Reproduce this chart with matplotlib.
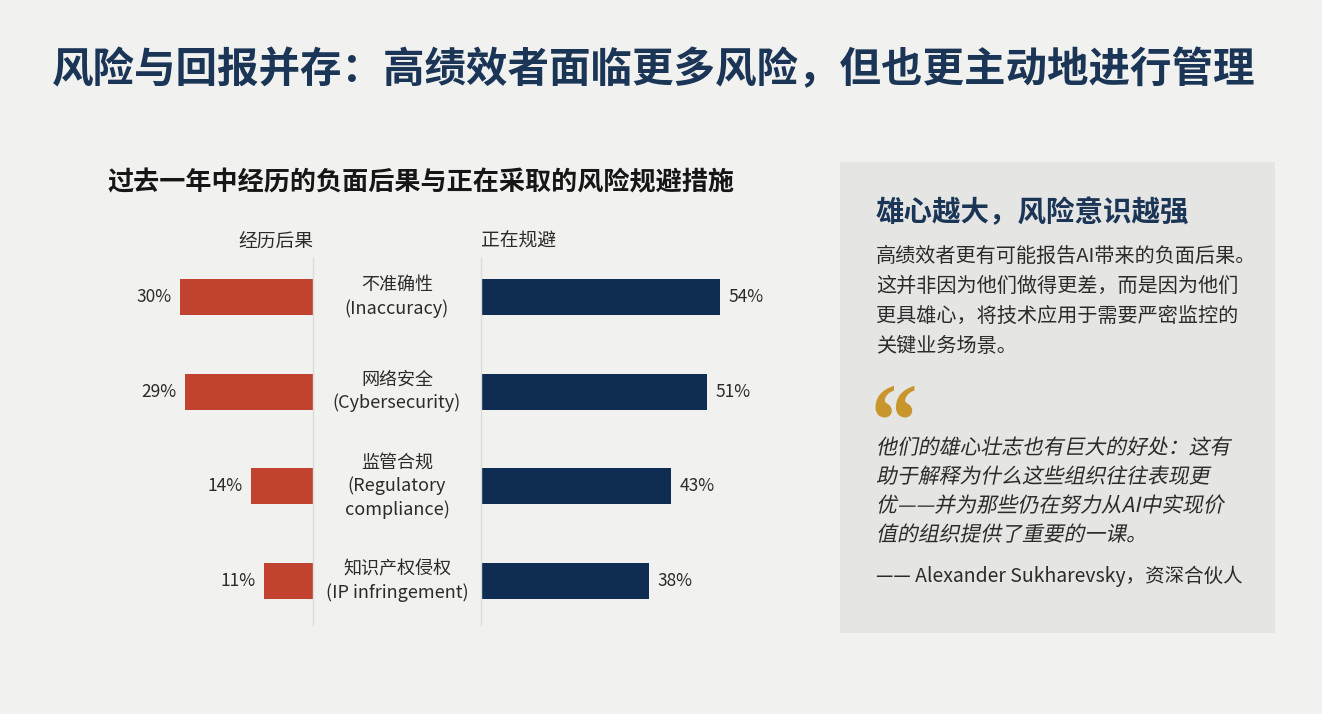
import matplotlib
matplotlib.use("Agg")
import matplotlib.pyplot as plt
from matplotlib.patches import Rectangle
from matplotlib.patheffects import AbstractPathEffect
from matplotlib.transforms import Affine2D, blended_transform_factory

plt.rcParams['font.family'] = ['Noto Sans CJK SC', 'DejaVu Sans']

# data
risks = ["不准确性\n(Inaccuracy)", "网络安全\n(Cybersecurity)",
         "监管合规\n(Regulatory\ncompliance)", "知识产权侵权\n(IP infringement)"]
experienced = [30, 29, 14, 11]
mitigating = [54, 51, 43, 38]

title = "风险与回报并存：高绩效者面临更多风险，但也更主动地进行管理"
subtitle = "过去一年中经历的负面后果与正在采取的风险规避措施"
left_header = "经历后果"
right_header = "正在规避"
panel_title = "雄心越大，风险意识越强"
panel_body = ["高绩效者更有可能报告AI带来的负面后果。",
              "这并非因为他们做得更差，而是因为他们",
              "更具雄心，将技术应用于需要严密监控的",
              "关键业务场景。"]
quote_lines = ["他们的雄心壮志也有巨大的好处：这有",
               "助于解释为什么这些组织往往表现更",
               "优——并为那些仍在努力从AI中实现价",
               "值的组织提供了重要的一课。"]
attribution = "—— Alexander Sukharevsky，资深合伙人"

W, H = 1322, 714
BG = "#f1f1ef"
NAVY = "#0f2d52"
RED = "#c1432f"
TXT = "#2b2b2b"


class Warp(AbstractPathEffect):
    # skew (fake italic), scale and shift the glyph paths (em = 100 units)
    def __init__(self, skew=0, sx=1, sy=1, dy=0):
        super().__init__()
        self.skew = skew
        self.sx, self.sy, self.dy = sx, sy, dy

    def draw_path(self, renderer, gc, tpath, affine, rgbFace=None):
        t = (Affine2D().skew_deg(self.skew, 0).scale(self.sx, self.sy)
             .translate(0, self.dy) + affine)
        renderer.draw_path(gc, tpath, t, rgbFace)


def fx(px):
    return px / W


def fy(py):
    return 1 - py / H


fig = plt.figure(figsize=(W / 100, H / 100), dpi=100)
fig.patch.set_facecolor(BG)

fig.text(fx(52), fy(70), title, fontsize=29.9, fontweight="bold", color="#1b3556",
         ha="left", va="center")
fig.text(fx(107), fy(183), subtitle, fontsize=18.8, fontweight="bold", color="#161616",
         ha="left", va="center")

# bar axes
top, bot = 258, 625
row0, step = 297, 94.7
pxp = 4.43  # pixels per percent
ylo = (bot - row0) / step
yhi = -(row0 - top) / step

axL = fig.add_axes([fx(100), fy(bot), fx(313 - 100), (bot - top) / H])
axR = fig.add_axes([fx(481), fy(bot), fx(800 - 481), (bot - top) / H])
axL.set_xlim((313 - 100) / pxp, 0)
axR.set_xlim(0, (800 - 481) / pxp)
ypos = list(range(len(risks)))
for ax in (axL, axR):
    ax.set_ylim(ylo, yhi)
    ax.set_facecolor("none")
    ax.set_xticks([])
    ax.set_yticks([])
    for s in ax.spines.values():
        s.set_visible(False)
axL.spines["right"].set_visible(True)
axL.spines["right"].set_color("#dcdcda")
axL.spines["right"].set_linewidth(1)
axR.spines["left"].set_visible(True)
axR.spines["left"].set_color("#dcdcda")
axR.spines["left"].set_linewidth(1)

axL.barh(ypos, experienced, height=0.38, color=RED)
axR.barh(ypos, mitigating, height=0.38, color=NAVY)

for y, v in zip(ypos, experienced):
    axL.annotate(f"{v}%", (v, y), xytext=(-6, 0), textcoords="offset points",
                 ha="right", va="center", fontsize=12.5, color=TXT)
for y, v in zip(ypos, mitigating):
    axR.annotate(f"{v}%", (v, y), xytext=(6, 0), textcoords="offset points",
                 ha="left", va="center", fontsize=12.5, color=TXT)

tr = blended_transform_factory(fig.transFigure, axL.transData)
for y, lab in zip(ypos, risks):
    axL.text(fx(397), y, lab, transform=tr, ha="center", va="center",
             fontsize=13, color=TXT, linespacing=1.32, clip_on=False)

fig.text(fx(313), fy(241), left_header, fontsize=13.5, color=TXT, ha="right", va="center")
fig.text(fx(481), fy(241), right_header, fontsize=13.5, color=TXT, ha="left", va="center")

# right panel
fig.patches.append(Rectangle((fx(840), fy(633)), fx(1275 - 840), (633 - 162) / H,
                             transform=fig.transFigure, facecolor="#e5e5e3",
                             edgecolor="none", zorder=0))
fig.text(fx(876), fy(213), panel_title, fontsize=20.5, fontweight="bold", color="#1b3556",
         ha="left", va="center")
for i, line in enumerate(panel_body):
    fig.text(fx(876), fy(256 + 30 * i), line, fontsize=14.5, color=TXT,
             ha="left", va="center")

fig.text(fx(871), fy(418), "\u201c", fontsize=22, fontweight="bold", color="#c8962c",
         family="Liberation Serif", ha="left", va="baseline",
         path_effects=[Warp(sx=3.04, sy=3.43, dy=-122.8)])

for i, line in enumerate(quote_lines):
    fig.text(fx(876), fy(448 + 29 * i), line, fontsize=15, color=TXT,
             ha="left", va="center", path_effects=[Warp(skew=12)])

fig.text(fx(876), fy(576), attribution, fontsize=14, color=TXT, ha="left", va="center")

fig.savefig("out.png", dpi=100, facecolor=BG)
